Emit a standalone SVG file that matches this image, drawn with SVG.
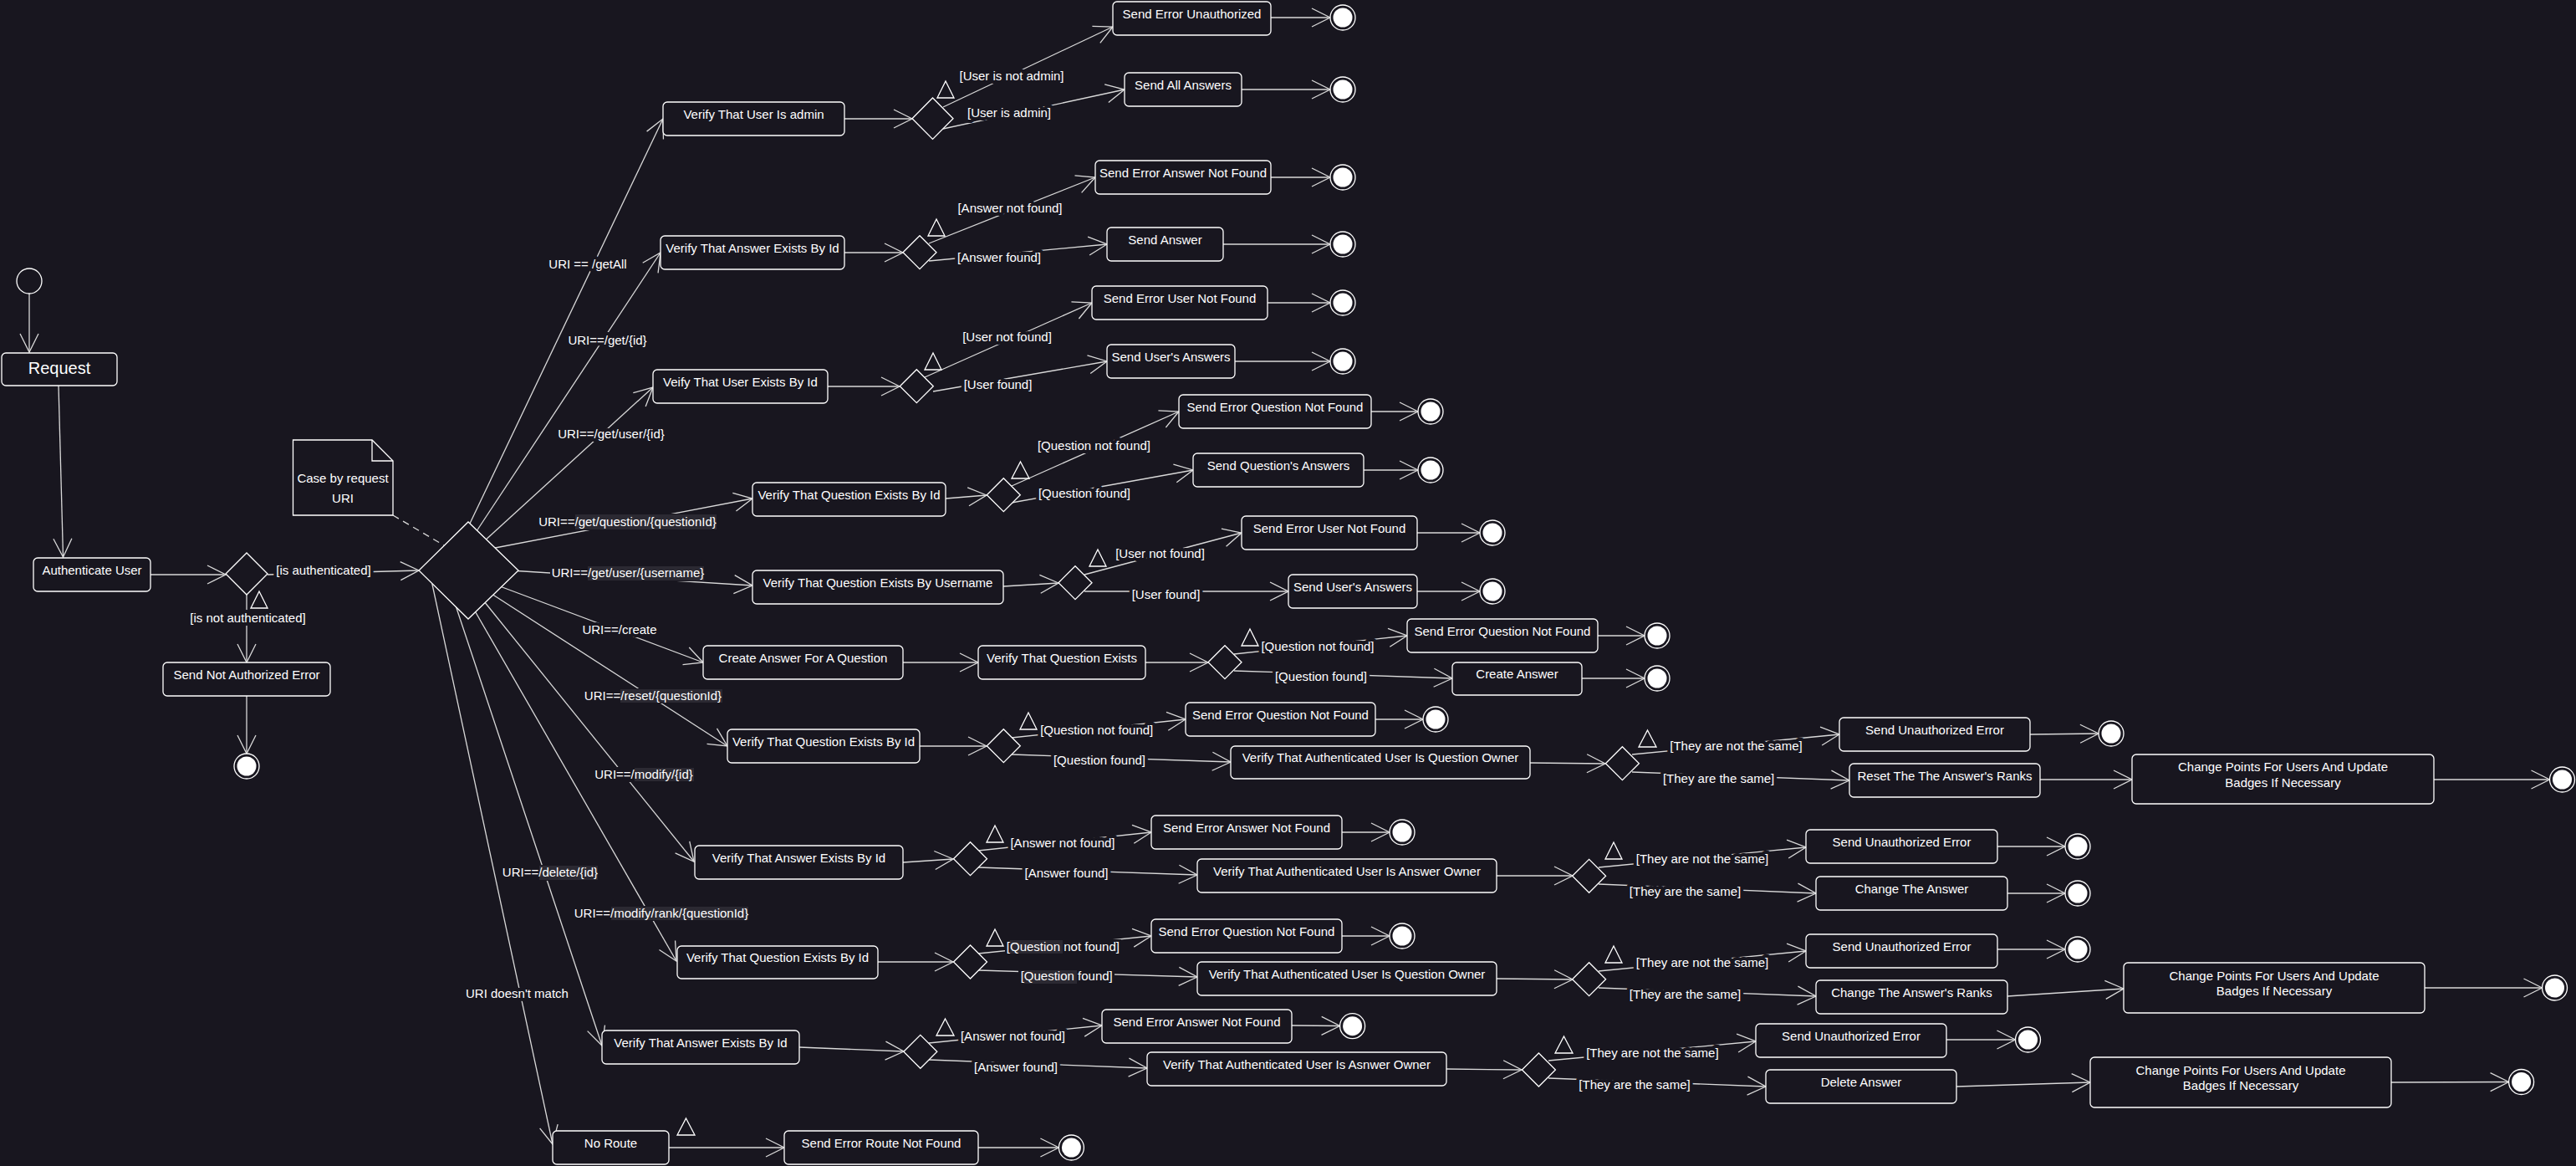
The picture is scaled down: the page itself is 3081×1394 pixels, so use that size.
<svg xmlns="http://www.w3.org/2000/svg" width="3081" height="1394" viewBox="0 0 3081 1394">
<style>
.bg{fill:#18161f}
.box{fill:#18161f;stroke:#ffffff;stroke-width:1.3}
.dia{fill:#18161f;stroke:#ffffff;stroke-width:1.3}
.tri{fill:none;stroke:#ffffff;stroke-width:1.3}
.c{stroke:#d9d9d9;stroke-width:1.3;fill:none;marker-end:url(#arr)}
.dash{stroke:#d9d9d9;stroke-width:1.3;fill:none;stroke-dasharray:8 6}
.t{font-family:"Liberation Sans",Arial,sans-serif;font-size:15px;fill:#ffffff;text-anchor:middle}
.lbl{font-family:"Liberation Sans",Arial,sans-serif;font-size:15px;fill:#ffffff;text-anchor:middle;paint-order:stroke;stroke:#18161f;stroke-width:8px;stroke-linejoin:round}
.lbl2{font-family:"Liberation Sans",Arial,sans-serif;font-size:15px;fill:#ffffff;text-anchor:middle}
.hl{fill:#2b2932}
.fo{fill:#18161f;stroke:#ffffff;stroke-width:1.3}
.fi{fill:#ffffff}
</style>
<defs>
<marker id="arr" markerUnits="userSpaceOnUse" markerWidth="24" markerHeight="24" viewBox="0 0 24 24" refX="22" refY="11" orient="auto" overflow="visible">
<path d="M0,0 L22,11 L0,22" fill="none" stroke="#d9d9d9" stroke-width="1.3"/>
</marker>
</defs>
<rect class="bg" x="0" y="0" width="3081" height="1394"/>

<g id="connectors">
<line class="c" x1="35" y1="351" x2="35" y2="421"/>
<line class="c" x1="70" y1="461" x2="75.5" y2="666"/>
<line class="c" x1="180" y1="687" x2="270" y2="687"/>
<line class="c" x1="320" y1="687" x2="501" y2="682"/>
<line class="c" x1="295" y1="711" x2="295" y2="792"/>
<line class="c" x1="295" y1="832" x2="295" y2="901"/>
<line class="dash" x1="470" y1="616" x2="531" y2="652"/>

<line class="c" x1="560" y1="630" x2="793" y2="142"/>
<line class="c" x1="568" y1="638" x2="790" y2="302"/>
<line class="c" x1="578" y1="648" x2="781" y2="463"/>
<line class="c" x1="587" y1="656" x2="900" y2="596"/>
<line class="c" x1="610" y1="682" x2="900" y2="700"/>
<line class="c" x1="598" y1="701" x2="841" y2="792"/>
<line class="c" x1="588" y1="710" x2="870" y2="892"/>
<line class="c" x1="579" y1="719" x2="830" y2="1030"/>
<line class="c" x1="566" y1="727" x2="809" y2="1149"/>
<line class="c" x1="544" y1="721" x2="720" y2="1250"/>
<line class="c" x1="516" y1="694" x2="661" y2="1368"/>

<line class="c" x1="1010" y1="142" x2="1091" y2="142"/>
<line class="c" x1="1128" y1="128" x2="1331" y2="32"/>
<line class="c" x1="1128" y1="154" x2="1345" y2="107"/>
<line class="c" x1="1520" y1="21" x2="1591" y2="21"/>
<line class="c" x1="1485" y1="107" x2="1591" y2="107"/>

<line class="c" x1="1010" y1="302" x2="1080" y2="302"/>
<line class="c" x1="1111" y1="291" x2="1310" y2="212"/>
<line class="c" x1="1111" y1="312" x2="1324" y2="292"/>
<line class="c" x1="1520" y1="212" x2="1591" y2="212"/>
<line class="c" x1="1463" y1="292" x2="1591" y2="292"/>

<line class="c" x1="990" y1="462" x2="1076" y2="462"/>
<line class="c" x1="1106" y1="451" x2="1306" y2="362"/>
<line class="c" x1="1116" y1="468" x2="1324" y2="432"/>
<line class="c" x1="1516" y1="362" x2="1591" y2="362"/>
<line class="c" x1="1477" y1="432" x2="1591" y2="432"/>

<line class="c" x1="1131" y1="596" x2="1180" y2="592"/>
<line class="c" x1="1210" y1="581" x2="1410" y2="492"/>
<line class="c" x1="1210" y1="601" x2="1427" y2="562"/>
<line class="c" x1="1640" y1="492" x2="1696" y2="492"/>
<line class="c" x1="1631" y1="562" x2="1696" y2="562"/>

<line class="c" x1="1200" y1="701" x2="1266" y2="697"/>
<line class="c" x1="1297" y1="687" x2="1485" y2="637"/>
<line class="c" x1="1297" y1="707" x2="1541" y2="707"/>
<line class="c" x1="1695" y1="637" x2="1770" y2="637"/>
<line class="c" x1="1695" y1="707" x2="1770" y2="707"/>

<line class="c" x1="1080" y1="792" x2="1170" y2="792"/>
<line class="c" x1="1370" y1="792" x2="1445" y2="792"/>
<line class="c" x1="1476" y1="782" x2="1683" y2="760"/>
<line class="c" x1="1476" y1="802" x2="1737" y2="811"/>
<line class="c" x1="1911" y1="760" x2="1967" y2="760"/>
<line class="c" x1="1892" y1="811" x2="1967" y2="811"/>

<line class="c" x1="1100" y1="892" x2="1180" y2="892"/>
<line class="c" x1="1210" y1="882" x2="1418" y2="860"/>
<line class="c" x1="1210" y1="902" x2="1472" y2="911"/>
<line class="c" x1="1645" y1="860" x2="1702" y2="860"/>
<line class="c" x1="1830" y1="912" x2="1920" y2="913"/>
<line class="c" x1="1952" y1="902" x2="2200" y2="878"/>
<line class="c" x1="1952" y1="923" x2="2212" y2="933"/>
<line class="c" x1="2428" y1="878" x2="2510" y2="877"/>
<line class="c" x1="2440" y1="932" x2="2550" y2="932"/>
<line class="c" x1="2911" y1="932" x2="3049.5" y2="932"/>

<line class="c" x1="1080" y1="1031" x2="1140" y2="1027"/>
<line class="c" x1="1170" y1="1017" x2="1377" y2="995"/>
<line class="c" x1="1170" y1="1037" x2="1432" y2="1046"/>
<line class="c" x1="1605" y1="995" x2="1662" y2="995"/>
<line class="c" x1="1790" y1="1047" x2="1881" y2="1047"/>
<line class="c" x1="1912" y1="1037" x2="2160" y2="1013"/>
<line class="c" x1="1912" y1="1057" x2="2172" y2="1068"/>
<line class="c" x1="2389" y1="1012" x2="2470" y2="1012"/>
<line class="c" x1="2401" y1="1068" x2="2470" y2="1068"/>

<line class="c" x1="1050" y1="1150" x2="1140" y2="1150"/>
<line class="c" x1="1170" y1="1140" x2="1377" y2="1119"/>
<line class="c" x1="1170" y1="1160" x2="1432" y2="1168"/>
<line class="c" x1="1605" y1="1119" x2="1662" y2="1119"/>
<line class="c" x1="1790" y1="1170" x2="1881" y2="1171"/>
<line class="c" x1="1912" y1="1161" x2="2160" y2="1137"/>
<line class="c" x1="1912" y1="1181" x2="2172" y2="1191"/>
<line class="c" x1="2389" y1="1135" x2="2470" y2="1135"/>
<line class="c" x1="2401" y1="1191" x2="2540" y2="1182"/>
<line class="c" x1="2900" y1="1181" x2="3040.5" y2="1181"/>

<line class="c" x1="956" y1="1252" x2="1081" y2="1257"/>
<line class="c" x1="1111" y1="1247" x2="1318" y2="1226"/>
<line class="c" x1="1111" y1="1267" x2="1372" y2="1277"/>
<line class="c" x1="1545" y1="1226" x2="1602.6" y2="1226.5"/>
<line class="c" x1="1730" y1="1278" x2="1820" y2="1279"/>
<line class="c" x1="1852" y1="1268" x2="2100" y2="1245"/>
<line class="c" x1="1852" y1="1289" x2="2112" y2="1299"/>
<line class="c" x1="2328" y1="1243" x2="2410.5" y2="1243"/>
<line class="c" x1="2340" y1="1299" x2="2500" y2="1294"/>
<line class="c" x1="2860" y1="1294" x2="3000.6" y2="1293.5"/>

<line class="c" x1="800" y1="1372" x2="938" y2="1372"/>
<line class="c" x1="1170" y1="1372" x2="1266.4" y2="1372"/>

<g id="label-backgrounds">
<rect class="bg" x="642" y="614" width="217" height="20"/>
<rect class="hl" x="688" y="615" width="169" height="18"/>
<rect class="bg" x="658" y="676" width="186" height="19"/>
<rect class="hl" x="703" y="677" width="139" height="17"/>
<rect class="bg" x="697" y="823" width="169" height="18"/>
<rect class="hl" x="742" y="824" width="122" height="16"/>
<rect class="bg" x="710" y="917" width="122" height="18"/>
<rect class="hl" x="759" y="918" width="71" height="16"/>
<rect class="bg" x="599" y="1034" width="118" height="19"/>
<rect class="hl" x="645" y="1035" width="70" height="17"/>
<rect class="bg" x="685" y="1083" width="212" height="18"/>
<rect class="hl" x="731" y="1084" width="164" height="16"/>
<rect class="bg" x="1202" y="1123" width="139" height="18"/>
<rect class="hl" x="1208" y="1124" width="63" height="16"/>
<rect class="bg" x="1218" y="1159" width="115" height="18"/>
<rect class="hl" x="1224" y="1160" width="64" height="16"/>
</g>

<g id="labels">
<text class="lbl" x="387" y="687">[is authenticated]</text>
<text class="lbl" x="296.5" y="744">[is not authenticated]</text>
<text class="lbl" x="703" y="321">URI == /getAll</text>
<text class="lbl" x="726.5" y="412">URI==/get/{id}</text>
<text class="lbl" x="731" y="524">URI==/get/user/{id}</text>
<text class="lbl2" x="750.5" y="629">URI==/get/question/{questionId}</text>
<text class="lbl2" x="751" y="690">URI==/get/user/{username}</text>
<text class="lbl" x="741" y="758">URI==/create</text>
<text class="lbl2" x="781" y="837">URI==/reset/{questionId}</text>
<text class="lbl2" x="770" y="931">URI==/modify/{id}</text>
<text class="lbl2" x="658" y="1048">URI==/delete/{id}</text>
<text class="lbl2" x="791" y="1097">URI==/modify/rank/{questionId}</text>
<text class="lbl" x="618.5" y="1193">URI doesn't match</text>

<text class="lbl" x="1210" y="96">[User is not admin]</text>
<text class="lbl" x="1207" y="140">[User is admin]</text>
<text class="lbl" x="1208" y="254">[Answer not found]</text>
<text class="lbl" x="1195" y="313">[Answer found]</text>
<text class="lbl" x="1204.5" y="408">[User not found]</text>
<text class="lbl" x="1193.5" y="465">[User found]</text>
<text class="lbl" x="1308.5" y="538">[Question not found]</text>
<text class="lbl" x="1297" y="595">[Question found]</text>
<text class="lbl" x="1387.5" y="667">[User not found]</text>
<text class="lbl" x="1394.5" y="716">[User found]</text>
<text class="lbl" x="1576" y="778">[Question not found]</text>
<text class="lbl" x="1580" y="814">[Question found]</text>
<text class="lbl" x="1311.7" y="878">[Question not found]</text>
<text class="lbl" x="1315" y="914">[Question found]</text>
<text class="lbl" x="2076.5" y="897">[They are not the same]</text>
<text class="lbl" x="2055.6" y="936">[They are the same]</text>
<text class="lbl" x="1271" y="1013">[Answer not found]</text>
<text class="lbl" x="1275.5" y="1049">[Answer found]</text>
<text class="lbl" x="2036" y="1032">[They are not the same]</text>
<text class="lbl" x="2015.5" y="1071">[They are the same]</text>
<text class="lbl2" x="1271.4" y="1137">[Question not found]</text>
<text class="lbl2" x="1275.7" y="1172">[Question found]</text>
<text class="lbl" x="2036" y="1156">[They are not the same]</text>
<text class="lbl" x="2015.5" y="1194">[They are the same]</text>
<text class="lbl" x="1211.5" y="1244">[Answer not found]</text>
<text class="lbl" x="1215" y="1281">[Answer found]</text>
<text class="lbl" x="1976.4" y="1264">[They are not the same]</text>
<text class="lbl" x="1955" y="1302">[They are the same]</text>
</g>
</g>

<g id="start"><circle cx="35" cy="336" r="15" fill="#18161f" stroke="#ffffff" stroke-width="1.3"/></g>
<g id="request"><rect class="box" x="2" y="422" width="138" height="39" rx="5"/><text class="t" x="71" y="447" style="font-size:20px">Request</text></g>
<g id="authenticate"><rect class="box" x="40" y="667" width="140" height="40" rx="5"/><text class="t" x="110" y="687">Authenticate User</text></g>
<g id="d-auth"><polygon class="dia" points="270,686 295,661 320,686 295,711"/><polygon class="tri" points="310,707 320,727 300,727"/></g>
<g id="not-auth"><rect class="box" x="195" y="792" width="200" height="40" rx="5"/><text class="t" x="295" y="812">Send Not Authorized Error</text></g>
<g id="end-auth"><circle class="fo" cx="295" cy="916" r="15"/><circle class="fi" cx="295" cy="916" r="11.5"/></g>
<g id="note"><path d="M350.5,526 L445,526 L470,551 L470,616 L350.5,616 Z" class="box"/><path d="M445,526 L445,551 L470,551" fill="none" stroke="#ffffff" stroke-width="1.3"/><text class="t" x="410" y="577">Case by request</text><text class="t" x="410" y="601">URI</text></g>
<g id="d-uri"><polygon class="dia" points="501,682 560,624 620,682 560,740"/></g>

<g id="b1-verify"><rect class="box" x="793" y="122" width="217" height="40" rx="5"/><text class="t" x="901.5" y="142">Verify That User Is admin</text></g>
<g id="b1-d"><polygon class="dia" points="1091,141.7 1115.5,117 1140,141.7 1115.5,166.4"/><polygon class="tri" points="1131,97 1141,117 1121,117"/></g>
<g id="b1-err"><rect class="box" x="1331" y="2" width="189" height="40" rx="5"/><text class="t" x="1425.5" y="22">Send Error Unauthorized</text></g>
<g id="b1-all"><rect class="box" x="1345" y="87" width="140" height="40" rx="5"/><text class="t" x="1415" y="107">Send All Answers</text></g>

<g id="b2-verify"><rect class="box" x="790" y="282" width="220" height="40" rx="5"/><text class="t" x="900" y="302">Verify That Answer Exists By Id</text></g>
<g id="b2-d"><polygon class="dia" points="1080,301.7 1100,281.7 1120,301.7 1100,321.7"/><polygon class="tri" points="1120,262 1130,282 1110,282"/></g>
<g id="b2-err"><rect class="box" x="1310" y="192" width="210" height="40" rx="5"/><text class="t" x="1415" y="212">Send Error Answer Not Found</text></g>
<g id="b2-ok"><rect class="box" x="1324" y="272" width="139" height="40" rx="5"/><text class="t" x="1393.5" y="292">Send Answer</text></g>

<g id="b3-verify"><rect class="box" x="781" y="442" width="209" height="40" rx="5"/><text class="t" x="885.5" y="462">Veify That User Exists By Id</text></g>
<g id="b3-d"><polygon class="dia" points="1076.3,461.7 1096.3,441.7 1116.3,461.7 1096.3,481.7"/><polygon class="tri" points="1116,422 1126,442 1106,442"/></g>
<g id="b3-err"><rect class="box" x="1306" y="342" width="210" height="40" rx="5"/><text class="t" x="1411" y="362">Send Error User Not Found</text></g>
<g id="b3-ok"><rect class="box" x="1324" y="412" width="153" height="40" rx="5"/><text class="t" x="1400.5" y="432">Send User's Answers</text></g>

<g id="b4-verify"><rect class="box" x="900" y="577" width="231" height="40" rx="5"/><text class="t" x="1015.5" y="597">Verify That Question Exists By Id</text></g>
<g id="b4-d"><polygon class="dia" points="1180.3,591.7 1200.3,571.7 1220.3,591.7 1200.3,611.7"/><polygon class="tri" points="1220.5,552 1231,572 1210,572"/></g>
<g id="b4-err"><rect class="box" x="1410" y="472" width="230" height="40" rx="5"/><text class="t" x="1525" y="492">Send Error Question Not Found</text></g>
<g id="b4-ok"><rect class="box" x="1427" y="542" width="204" height="40" rx="5"/><text class="t" x="1529" y="562">Send Question's Answers</text></g>

<g id="b5-verify"><rect class="box" x="900" y="682" width="300" height="40" rx="5"/><text class="t" x="1050" y="702">Verify That Question Exists By Username</text></g>
<g id="b5-d"><polygon class="dia" points="1266,696.7 1286,676.7 1306,696.7 1286,716.7"/><polygon class="tri" points="1313,657 1323,677 1303,677"/></g>
<g id="b5-err"><rect class="box" x="1485" y="617" width="210" height="40" rx="5"/><text class="t" x="1590" y="637">Send Error User Not Found</text></g>
<g id="b5-ok"><rect class="box" x="1541" y="687" width="154" height="40" rx="5"/><text class="t" x="1618" y="707">Send User's Answers</text></g>

<g id="b6-create"><rect class="box" x="841" y="772" width="239" height="40" rx="5"/><text class="t" x="960.5" y="792">Create Answer For A Question</text></g>
<g id="b6-verify"><rect class="box" x="1170" y="772" width="200" height="40" rx="5"/><text class="t" x="1270" y="792">Verify That Question Exists</text></g>
<g id="b6-d"><polygon class="dia" points="1445,791.7 1465,771.7 1485,791.7 1465,811.7"/><polygon class="tri" points="1495,752 1505,772 1485,772"/></g>
<g id="b6-err"><rect class="box" x="1683" y="740" width="228" height="40" rx="5"/><text class="t" x="1797" y="760">Send Error Question Not Found</text></g>
<g id="b6-ok"><rect class="box" x="1737" y="792" width="155" height="39" rx="5"/><text class="t" x="1814.5" y="811">Create Answer</text></g>

<g id="b7-verify"><rect class="box" x="870" y="872" width="230" height="40" rx="5"/><text class="t" x="985" y="892">Verify That Question Exists By Id</text></g>
<g id="b7-d"><polygon class="dia" points="1180.3,891.7 1200.3,871.7 1220.3,891.7 1200.3,911.7"/><polygon class="tri" points="1230,852 1240,872 1220,872"/></g>
<g id="b7-err"><rect class="box" x="1418" y="840" width="227" height="40" rx="5"/><text class="t" x="1531.5" y="860">Send Error Question Not Found</text></g>
<g id="b7-owner"><rect class="box" x="1472" y="892" width="358" height="39" rx="5"/><text class="t" x="1651" y="911">Verify That Authenticated User Is Question Owner</text></g>
<g id="b7-d2"><polygon class="dia" points="1920.4,912.7 1940.4,892.7 1960.4,912.7 1940.4,932.7"/><polygon class="tri" points="1970.5,873 1981,893 1960,893"/></g>
<g id="b7-unauth"><rect class="box" x="2200" y="858" width="228" height="40" rx="5"/><text class="t" x="2314" y="878">Send Unauthorized Error</text></g>
<g id="b7-reset"><rect class="box" x="2212" y="913" width="228" height="40" rx="5"/><text class="t" x="2326" y="933">Reset The The Answer's Ranks</text></g>
<g id="b7-points"><rect class="box" x="2550" y="902" width="361" height="59" rx="5"/><text class="t" x="2730.5" y="922">Change Points For Users And Update</text><text class="t" x="2730.5" y="940.5">Badges If Necessary</text></g>

<g id="b8-verify"><rect class="box" x="831" y="1011" width="249" height="40" rx="5"/><text class="t" x="955.5" y="1031">Verify That Answer Exists By Id</text></g>
<g id="b8-d"><polygon class="dia" points="1140.5,1026.7 1160.5,1006.7 1180.5,1026.7 1160.5,1046.7"/><polygon class="tri" points="1190,987 1200,1007 1180,1007"/></g>
<g id="b8-err"><rect class="box" x="1377" y="975" width="228" height="40" rx="5"/><text class="t" x="1491" y="995">Send Error Answer Not Found</text></g>
<g id="b8-owner"><rect class="box" x="1432" y="1027" width="358" height="40" rx="5"/><text class="t" x="1611" y="1047">Verify That Authenticated User Is Answer Owner</text></g>
<g id="b8-d2"><polygon class="dia" points="1880.6,1047.3 1900.6,1027.3 1920.6,1047.3 1900.6,1067.3"/><polygon class="tri" points="1930,1007 1940,1027 1920,1027"/></g>
<g id="b8-unauth"><rect class="box" x="2160" y="992" width="229" height="40" rx="5"/><text class="t" x="2274.5" y="1012">Send Unauthorized Error</text></g>
<g id="b8-change"><rect class="box" x="2172" y="1048" width="229" height="40" rx="5"/><text class="t" x="2286.5" y="1068">Change The Answer</text></g>

<g id="b9-verify"><rect class="box" x="810" y="1131" width="240" height="39" rx="5"/><text class="t" x="930" y="1150">Verify That Question Exists By Id</text></g>
<g id="b9-d"><polygon class="dia" points="1140.5,1150 1160.5,1130 1180.5,1150 1160.5,1170"/><polygon class="tri" points="1190,1111 1200,1131 1180,1131"/></g>
<g id="b9-err"><rect class="box" x="1377" y="1099" width="228" height="40" rx="5"/><text class="t" x="1491" y="1119">Send Error Question Not Found</text></g>
<g id="b9-owner"><rect class="box" x="1432" y="1150" width="358" height="40" rx="5"/><text class="t" x="1611" y="1170">Verify That Authenticated User Is Question Owner</text></g>
<g id="b9-d2"><polygon class="dia" points="1880.6,1170.7 1900.6,1150.7 1920.6,1170.7 1900.6,1190.7"/><polygon class="tri" points="1930,1131 1940,1151 1920,1151"/></g>
<g id="b9-unauth"><rect class="box" x="2160" y="1117" width="229" height="40" rx="5"/><text class="t" x="2274.5" y="1137">Send Unauthorized Error</text></g>
<g id="b9-ranks"><rect class="box" x="2172" y="1172" width="229" height="40" rx="5"/><text class="t" x="2286.5" y="1192">Change The Answer's Ranks</text></g>
<g id="b9-points"><rect class="box" x="2540" y="1151" width="360" height="60" rx="5"/><text class="t" x="2720" y="1172">Change Points For Users And Update</text><text class="t" x="2720" y="1190">Badges If Necessary</text></g>

<g id="b10-verify"><rect class="box" x="720" y="1232" width="236" height="40" rx="5"/><text class="t" x="838" y="1252">Verify That Answer Exists By Id</text></g>
<g id="b10-d"><polygon class="dia" points="1080.8,1257.3 1100.8,1237.3 1120.8,1257.3 1100.8,1277.3"/><polygon class="tri" points="1130.5,1218 1141,1238 1120,1238"/></g>
<g id="b10-err"><rect class="box" x="1318" y="1207" width="227" height="40" rx="5"/><text class="t" x="1431.5" y="1227">Send Error Answer Not Found</text></g>
<g id="b10-owner"><rect class="box" x="1372" y="1258" width="358" height="40" rx="5"/><text class="t" x="1551" y="1278">Verify That Authenticated User Is Asnwer Owner</text></g>
<g id="b10-d2"><polygon class="dia" points="1820.4,1279 1840.4,1259 1860.4,1279 1840.4,1299"/><polygon class="tri" points="1870.5,1239 1881,1259 1860,1259"/></g>
<g id="b10-unauth"><rect class="box" x="2100" y="1224" width="228" height="40" rx="5"/><text class="t" x="2214" y="1244">Send Unauthorized Error</text></g>
<g id="b10-delete"><rect class="box" x="2112" y="1279" width="228" height="40" rx="5"/><text class="t" x="2226" y="1299">Delete Answer</text></g>
<g id="b10-points"><rect class="box" x="2500" y="1264" width="360" height="60" rx="5"/><text class="t" x="2680" y="1285">Change Points For Users And Update</text><text class="t" x="2680" y="1303">Badges If Necessary</text></g>

<g id="b11-noroute"><rect class="box" x="661" y="1352" width="139" height="40" rx="5"/><text class="t" x="730.5" y="1372">No Route</text><polygon class="tri" points="820.5,1337 831,1357 810,1357"/></g>
<g id="b11-err"><rect class="box" x="938" y="1352" width="232" height="40" rx="5"/><text class="t" x="1054" y="1372">Send Error Route Not Found</text></g>

<g id="finals">
<circle class="fo" cx="1606" cy="21" r="15"/><circle class="fi" cx="1606" cy="21" r="11.5"/>
<circle class="fo" cx="1606" cy="107" r="15"/><circle class="fi" cx="1606" cy="107" r="11.5"/>
<circle class="fo" cx="1606" cy="212" r="15"/><circle class="fi" cx="1606" cy="212" r="11.5"/>
<circle class="fo" cx="1606" cy="292" r="15"/><circle class="fi" cx="1606" cy="292" r="11.5"/>
<circle class="fo" cx="1606" cy="362" r="15"/><circle class="fi" cx="1606" cy="362" r="11.5"/>
<circle class="fo" cx="1606" cy="432" r="15"/><circle class="fi" cx="1606" cy="432" r="11.5"/>
<circle class="fo" cx="1711" cy="492" r="15"/><circle class="fi" cx="1711" cy="492" r="11.5"/>
<circle class="fo" cx="1711" cy="562" r="15"/><circle class="fi" cx="1711" cy="562" r="11.5"/>
<circle class="fo" cx="1785" cy="637" r="15"/><circle class="fi" cx="1785" cy="637" r="11.5"/>
<circle class="fo" cx="1785" cy="707" r="15"/><circle class="fi" cx="1785" cy="707" r="11.5"/>
<circle class="fo" cx="1982" cy="760" r="15"/><circle class="fi" cx="1982" cy="760" r="11.5"/>
<circle class="fo" cx="1982" cy="811" r="15"/><circle class="fi" cx="1982" cy="811" r="11.5"/>
<circle class="fo" cx="1717" cy="860" r="15"/><circle class="fi" cx="1717" cy="860" r="11.5"/>
<circle class="fo" cx="2525" cy="877" r="15"/><circle class="fi" cx="2525" cy="877" r="11.5"/>
<circle class="fo" cx="3064.5" cy="932" r="15"/><circle class="fi" cx="3064.5" cy="932" r="11.5"/>
<circle class="fo" cx="1677" cy="995" r="15"/><circle class="fi" cx="1677" cy="995" r="11.5"/>
<circle class="fo" cx="2485" cy="1012" r="15"/><circle class="fi" cx="2485" cy="1012" r="11.5"/>
<circle class="fo" cx="2485" cy="1068" r="15"/><circle class="fi" cx="2485" cy="1068" r="11.5"/>
<circle class="fo" cx="1677" cy="1119" r="15"/><circle class="fi" cx="1677" cy="1119" r="11.5"/>
<circle class="fo" cx="2485" cy="1135" r="15"/><circle class="fi" cx="2485" cy="1135" r="11.5"/>
<circle class="fo" cx="3055.5" cy="1181" r="15"/><circle class="fi" cx="3055.5" cy="1181" r="11.5"/>
<circle class="fo" cx="1617.6" cy="1226.7" r="15"/><circle class="fi" cx="1617.6" cy="1226.7" r="11.5"/>
<circle class="fo" cx="2425.5" cy="1243" r="15"/><circle class="fi" cx="2425.5" cy="1243" r="11.5"/>
<circle class="fo" cx="3015.6" cy="1293.5" r="15"/><circle class="fi" cx="3015.6" cy="1293.5" r="11.5"/>
<circle class="fo" cx="1281.4" cy="1372" r="15"/><circle class="fi" cx="1281.4" cy="1372" r="11.5"/>
</g>
</svg>
